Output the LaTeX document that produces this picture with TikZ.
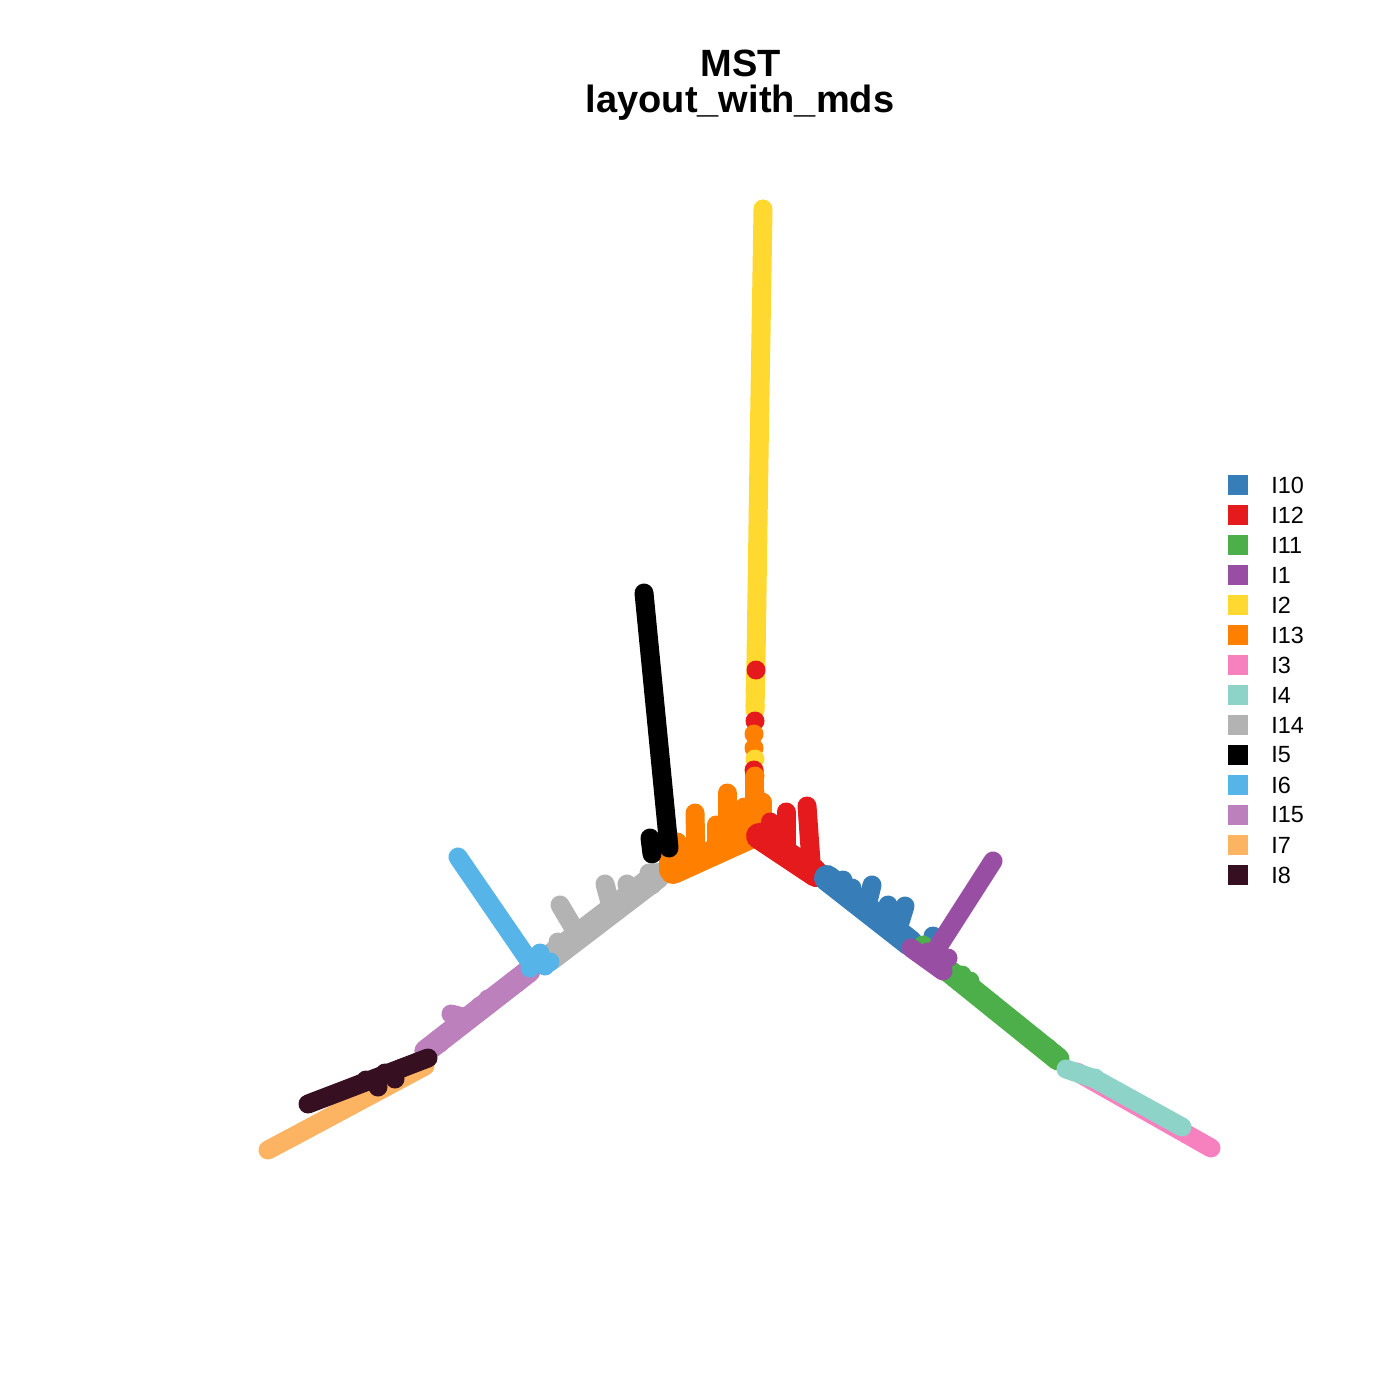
\documentclass[tikz,border=0pt]{standalone}
\usepackage{fontspec}
\setmainfont{Liberation Sans}
\definecolor{cI10}{HTML}{377EB8}
\definecolor{cI12}{HTML}{E41A1C}
\definecolor{cI11}{HTML}{4DAF4A}
\definecolor{cI1}{HTML}{984EA3}
\definecolor{cI2}{HTML}{FFD92F}
\definecolor{cI13}{HTML}{FF7F00}
\definecolor{cI3}{HTML}{F781BF}
\definecolor{cI4}{HTML}{8DD3C7}
\definecolor{cI14}{HTML}{B3B3B3}
\definecolor{cI5}{HTML}{000000}
\definecolor{cI6}{HTML}{56B4E9}
\definecolor{cI15}{HTML}{BC80BD}
\definecolor{cI7}{HTML}{FDB462}
\definecolor{cI8}{HTML}{360F20}
\tikzset{
  band/.style={line width=13pt, line cap=round, line join=round},
  thin band/.style={line width=11.5pt, line cap=round, line join=round},
  seg/.style={line width=9.5pt, line cap=round, line join=round},
  legsq/.style={minimum width=10pt, minimum height=10pt, inner sep=0pt, draw=none},
  legtxt/.style={anchor=west, inner sep=0pt, font=\fontsize{11.7}{14}\selectfont},
  ttl/.style={anchor=base, inner sep=0pt, font=\bfseries\fontsize{19}{23}\selectfont}
}
\newcommand{\dotat}[2]{\fill[#1] (#2) circle[radius=4.75pt];}
\begin{document}
\begin{tikzpicture}[x=0.5pt,y=-0.5pt]
\useasboundingbox (0,0) rectangle (1400,1400);
\fill[white] (0,0) rectangle (1400,1400);

% title
\node[ttl] (t1) at (741,77) {MST};
\node[ttl] (t2) at (740,113) {layout\_with\_mds};

% I7 (light orange, lower left)
\draw[cI7,seg] (268,1150) -- (300,1133) -- (425,1066);
% I3 pink
\draw[cI3,seg] (1077,1072) -- (1211,1148);

% I14 gray
\draw[cI14,band] (657,876) -- (551,957);
\draw[cI14,seg] (560,905) -- (576,932);
\draw[cI14,seg] (605,884) -- (612,910);
\draw[cI14,seg] (627,884) -- (630,898);
\draw[cI14,seg] (649,873) -- (652,885);
\dotat{cI14}{558,942}
\dotat{cI14}{595,922}

% I13 orange
\draw[cI13,band] (673,871) -- (748,837);
\draw[cI13,seg] (668,870) -- (668,852);
\draw[cI13,seg] (677,866) -- (677,842);
\draw[cI13,seg] (696,858) -- (695,813);
\draw[cI13,seg] (716,850) -- (716,825);
\draw[cI13,seg] (727,846) -- (727,793);
\draw[cI13,seg] (744,840) -- (744,807);
\draw[cI13,seg] (754,838) -- (754,772);
\draw[cI13,seg] (762,838) -- (762,802);
\dotat{cI13}{764,838}

% I12 red
\draw[cI12,band] (759,836) -- (816,874);
\draw[cI12,seg] (770,846) -- (770,822);
\draw[cI12,seg] (786,852) -- (786,812);
\draw[cI12,seg] (811,862) -- (807,806);
\draw[cI12,seg] (815,868) -- (819,876);

% I10 blue
\draw[cI10,band] (827,878) -- (910,943);
\draw[cI10,seg] (845,895) -- (843,880);
\draw[cI10,seg] (853,900) -- (852,888);
\draw[cI10,seg] (866,910) -- (872,885);
\draw[cI10,seg] (886,925) -- (888,905);
\draw[cI10,seg] (897,932) -- (905,906);
\dotat{cI10}{933,936}

% I11 green
\dotat{cI11}{923,945}
\draw[cI11,thin band] (950,972) -- (1058,1059);
\foreach \p in {{962,975},{970,981},{997,1011},{1008,1020},{1023,1030},{1035,1038},{1048,1048}}
  {\dotat{cI11}{\p}}

% I4 teal
\draw[cI4,seg] (1066,1069) -- (1095,1079) -- (1182,1127);
\dotat{cI4}{1095,1078}

% I2 yellow column
\draw[cI2,seg] (763,209) -- (759,457) -- (756,660) -- (755,710);
\dotat{cI12}{756,670}
\dotat{cI2}{755,690}
\dotat{cI2}{755,706}
\dotat{cI12}{755,721}
\dotat{cI13}{754,734}
\dotat{cI13}{754,748}
\dotat{cI2}{755,759}
\dotat{cI12}{754,770}
\dotat{cI13}{755,776}
\dotat{cI13}{755,792}

% I15 purple (left)
\draw[cI15,thin band] (529,971) -- (426,1051);
\draw[cI15,seg] (451,1014) -- (470,1019);
\foreach \p in {{517,983},{503,992},{488,999},{480,1006},{440,1043},{424,1051}}
  {\dotat{cI15}{\p}}

% I6 light blue
\draw[cI6,seg] (458,857) -- (530,962);
\foreach \p in {{530,968},{540,953},{550,962},{545,966}}
  {\dotat{cI6}{\p}}

% I8 dark
\draw[cI8,seg] (308,1104) -- (428,1058);
\foreach \p in {{378,1087},{395,1079},{385,1073},{402,1068},{366,1080}}
  {\dotat{cI8}{\p}}

% I1 purple (right)
\draw[cI1,seg] (993,861) -- (936,950);
\draw[cI1,seg] (911,948) -- (943,971);
\dotat{cI1}{948,958}
\dotat{cI1}{928,952}

% I5 black
\draw[cI5,seg] (644,593) -- (669,848);
\draw[cI5,seg] (650,838) -- (652,854);

% legend
\foreach \c/\t [count=\i from 0] in {cI10/I10,cI12/I12,cI11/I11,cI1/I1,cI2/I2,cI13/I13,cI3/I3,cI4/I4,cI14/I14,cI5/I5,cI6/I6,cI15/I15,cI7/I7,cI8/I8}{
  \node[legsq,fill=\c] (sq\i) at (1238,485+30*\i) {};
  \node[legtxt] (lt\i) at (1271,485+30*\i) {\t};
}
\end{tikzpicture}
\end{document}
